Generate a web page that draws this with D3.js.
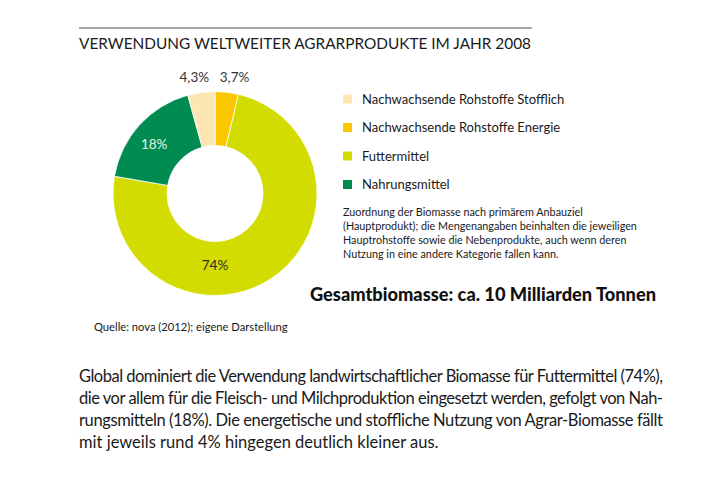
<!DOCTYPE html>
<html><head><meta charset="utf-8">
<script src="https://cdn.jsdelivr.net/npm/d3@7"></script>
<style>
html,body{margin:0;padding:0;background:#fff;}
svg{display:block;font-family:Lato,"Noto Sans","DejaVu Sans",sans-serif;}
</style></head>
<body><svg id="c" width="710" height="491"></svg>
<script>
// ---- data ----
const title = "VERWENDUNG WELTWEITER AGRARPRODUKTE IM JAHR 2008";
const categories = ["Nachwachsende Rohstoffe Energie", "Futtermittel", "Nahrungsmittel", "Nachwachsende Rohstoffe Stofflich"];
const values = [3.7, 74, 18, 4.3];
const valueLabels = ["3,7%", "74%", "18%", "4,3%"];
const colors = ["#fbc800", "#d3dc00", "#008b50", "#fde6b2"];
const legendOrder = ["Nachwachsende Rohstoffe Stofflich", "Nachwachsende Rohstoffe Energie", "Futtermittel", "Nahrungsmittel"];
const noteLines = [
  "Zuordnung der Biomasse nach primärem Anbauziel",
  "(Hauptprodukt); die Mengenangaben beinhalten die jeweiligen",
  "Hauptrohstoffe sowie die Nebenprodukte, auch wenn deren",
  "Nutzung in eine andere Kategorie fallen kann."
];
const totalText = "Gesamtbiomasse: ca. 10 Milliarden Tonnen";
const sourceText = "Quelle: nova (2012); eigene Darstellung";
const paragraph = [
  "Global dominiert die Verwendung landwirtschaftlicher Biomasse für Futtermittel (74%),",
  "die vor allem für die Fleisch- und Milchproduktion eingesetzt werden, gefolgt von Nah-",
  "rungsmitteln (18%). Die energetische und stoffliche Nutzung von Agrar-Biomasse fällt",
  "mit jeweils rund 4% hingegen deutlich kleiner aus."
];

// ---- drawing ----
const svg = d3.select("#c");
const color = d3.scaleOrdinal().domain(categories).range(colors);

// title + rule
svg.append("line").attr("x1", 79).attr("x2", 532).attr("y1", 28).attr("y2", 28)
  .attr("stroke", "#8a8a8a").attr("stroke-width", 1.5);
svg.append("text").attr("x", 79).attr("y", 48.5).text(title)
  .attr("font-size", 15.5).attr("fill", "#1a1a1a")
  .attr("textLength", 452).attr("lengthAdjust", "spacingAndGlyphs");

// donut
const cx = 215, cy = 193.5, rOuter = 102, rInner = 48;
const g = svg.append("g").attr("transform", `translate(${cx},${cy})`);
const pie = d3.pie().sort(null).value(d => d.v);
const data = categories.map((c, i) => ({c, v: values[i], l: valueLabels[i]}));
const arcs = pie(data);
const arc = d3.arc().innerRadius(rInner).outerRadius(rOuter);
g.selectAll("path").data(arcs).join("path")
  .attr("d", arc).attr("fill", d => color(d.data.c))
  .attr("stroke", "#fff").attr("stroke-width", 0.8);

// slice labels
const outerLabelArc = d3.arc().innerRadius(117).outerRadius(117);
const innerLabelArc = d3.arc().innerRadius(78).outerRadius(78);
arcs.forEach(d => {
  let x, y, fill;
  const mid = (d.startAngle + d.endAngle) / 2;
  if (d.data.v < 10) {
    [x, y] = outerLabelArc.centroid(d);
    x += Math.sin(mid) > 0 ? 6 : -5;
    fill = "#333";
  } else if (d.data.v > 50) {
    x = 0; y = (rInner + rOuter) / 2 - 3; fill = "#2a2a2a";
  } else {
    [x, y] = innerLabelArc.centroid(d);
    x -= 3; y += 3;
    fill = "#e8f3ea";
  }
  g.append("text").attr("x", x).attr("y", y).attr("dy", "0.35em")
    .attr("text-anchor", "middle").attr("font-size", 13.5).attr("fill", fill)
    .text(d.data.l);
});

// legend
const ly = d3.scalePoint().domain(legendOrder).range([99, 184.5]);
const lg = svg.append("g");
legendOrder.forEach(c => {
  lg.append("rect").attr("x", 343).attr("y", ly(c) - 4.5).attr("width", 9).attr("height", 9)
    .attr("fill", color(c));
  lg.append("text").attr("x", 362).attr("y", ly(c)).attr("dy", "0.35em")
    .attr("font-size", 13).attr("fill", "#1a1a1a").text(c);
});

// note
noteLines.forEach((t, i) => {
  svg.append("text").attr("x", 343).attr("y", 216 + i * 14).attr("font-size", 10.8)
    .attr("fill", "#1a1a1a").text(t);
});

// total
svg.append("text").attr("x", 310).attr("y", 301).text(totalText)
  .attr("font-weight", 900)
  .attr("font-size", 18).attr("fill", "#111")
  .attr("textLength", 346).attr("lengthAdjust", "spacingAndGlyphs");

// source
svg.append("text").attr("x", 94).attr("y", 331).attr("font-size", 11.2)
  .attr("fill", "#1a1a1a").text(sourceText);

// paragraph (justified)
paragraph.forEach((t, i) => {
  const tx = svg.append("text").attr("x", 79).attr("y", 382 + i * 22)
    .attr("font-size", 16.5).attr("fill", "#1a1a1a").text(t);
  if (i < paragraph.length - 1) tx.attr("textLength", 584).attr("lengthAdjust", "spacing");
});
</script></body></html>
